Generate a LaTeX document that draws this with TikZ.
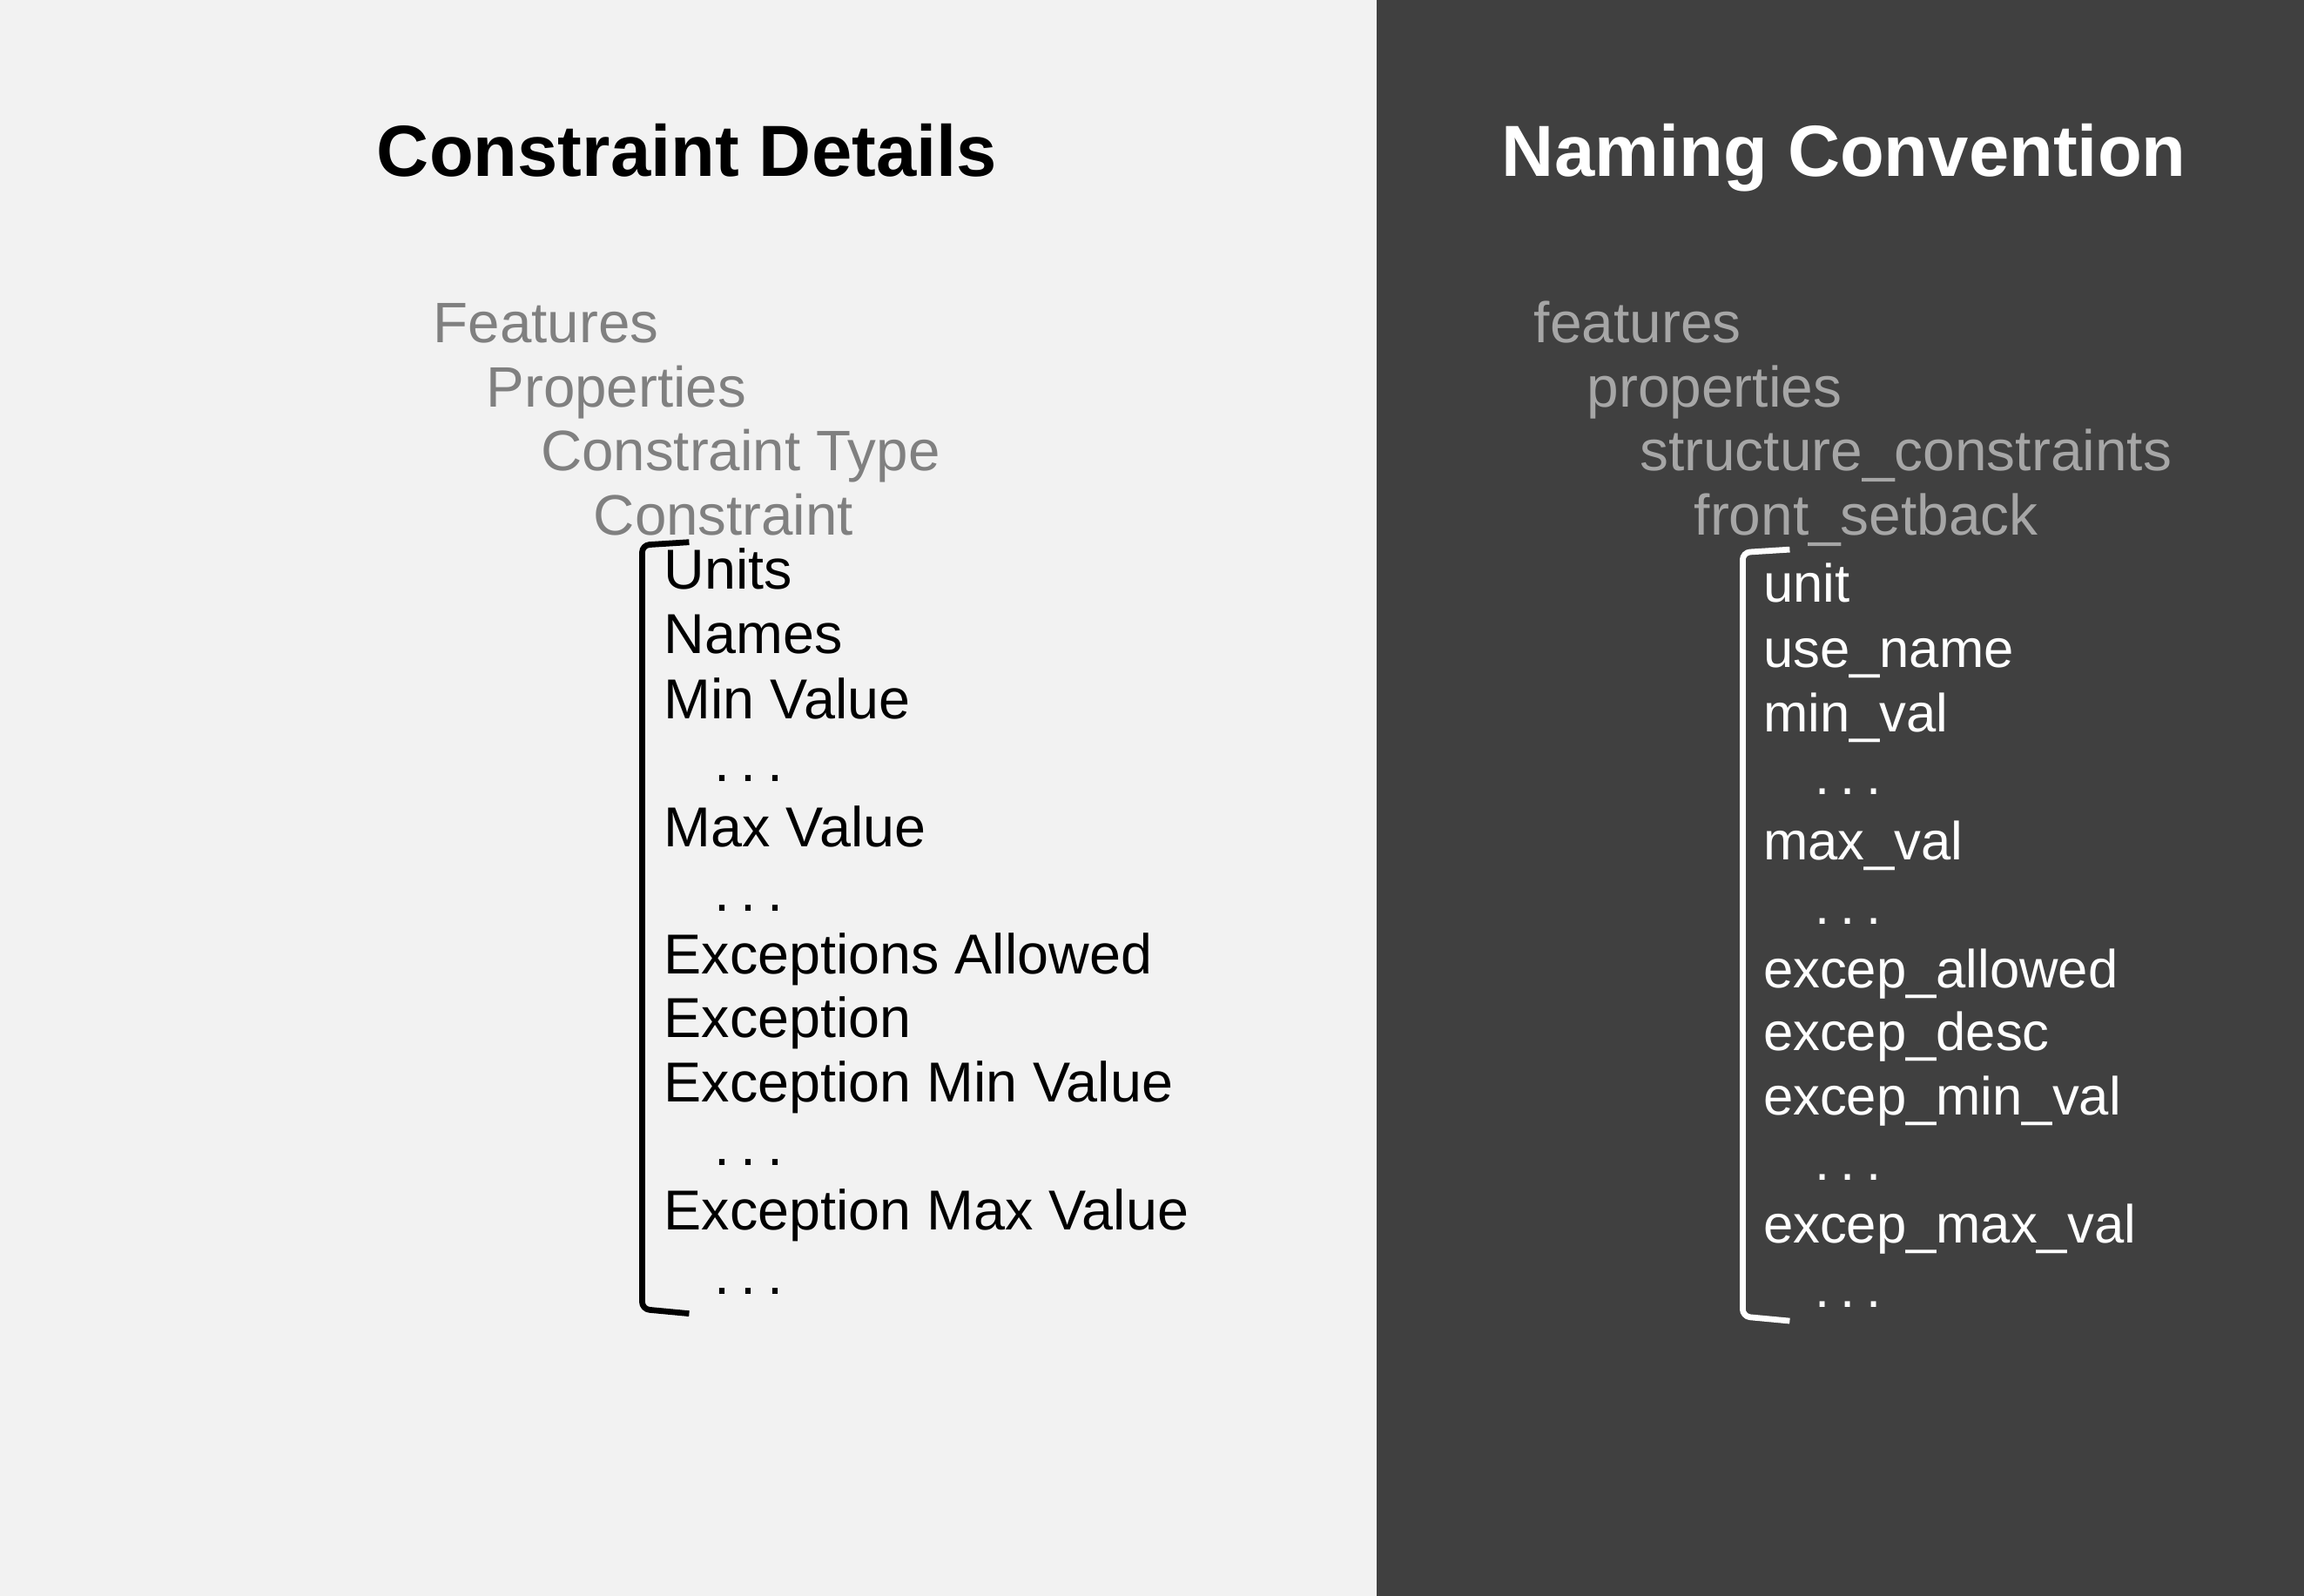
\documentclass[tikz,border=0pt]{standalone}
\usepackage{fontspec}
\setmainfont{Liberation Sans}
\definecolor{lightbg}{HTML}{F2F2F2}
\definecolor{darkbg}{HTML}{404040}
\definecolor{leftgray}{HTML}{808080}
\definecolor{rightgray}{HTML}{A6A6A6}
\newcommand{\mydots}{.\kern7.5pt.\kern7.5pt.}
\begin{document}
\begin{tikzpicture}[x=1pt,y=-1pt,
  every node/.style={inner sep=0pt,outer sep=0pt},
  title/.style={anchor=base,font=\fontsize{49.3}{58}\selectfont\bfseries},
  itemg/.style={anchor=base west,font=\fontsize{38.8}{44}\selectfont},
  item/.style={anchor=base west,font=\fontsize{38.3}{44}\selectfont},
  itemrg/.style={anchor=base west,font=\fontsize{39}{44}\selectfont},
  itemr/.style={anchor=base west,font=\fontsize{36.5}{44}\selectfont},
  brack/.style={line width=4pt,rounded corners=5pt,line cap=butt}]
\useasboundingbox (0,0) rectangle (1568,1086);
\fill[lightbg] (0,0) rectangle (937,1086);
\fill[darkbg] (937,0) rectangle (1568,1086);

% left panel
\node[title,text=black] (ltitle) at (467.5,120) {Constraint Details};
\node[itemg,text=leftgray] (lf) at (295,233) {Features};
\node[itemg,text=leftgray] (lp) at (331,277) {Properties};
\node[itemg,text=leftgray] (lct) at (368,320) {Constraint Type};
\node[itemg,text=leftgray] (lc) at (404,364) {Constraint};
\node[item] (l1) at (452,401) {Units};
\node[item] (l2) at (452,445) {Names};
\node[item] (l3) at (452,489) {Min Value};
\node[item] (l4) at (486,532) {\mydots};
\node[item] (l5) at (452,576) {Max Value};
\node[item] (l6) at (486,620) {\mydots};
\node[item] (l7) at (452,663) {Exceptions Allowed};
\node[item] (l8) at (452,706) {Exception};
\node[item] (l9) at (452,750) {Exception Min Value};
\node[item] (l10) at (486,793) {\mydots};
\node[item] (l11) at (452,837) {Exception Max Value};
\node[item] (l12) at (486,881) {\mydots};
\coordinate (lbt) at (469,369);
\coordinate (lbb) at (469,894);
\draw[brack,black] (lbt) -- (437,371) -- (437,891) -- (lbb);

% right panel
\node[title,text=white] (rtitle) at (1255,120) {Naming Convention};
\node[itemrg,text=rightgray] (rf) at (1044,233) {features};
\node[itemrg,text=rightgray] (rp) at (1080,277) {properties};
\node[itemrg,text=rightgray] (rct) at (1116,320) {structure\_constraints};
\node[itemrg,text=rightgray] (rc) at (1153,364) {front\_setback};
\node[itemr,text=white] (r1) at (1200,410) {unit};
\node[itemr,text=white] (r2) at (1200,454) {use\_name};
\node[itemr,text=white] (r3) at (1200,498) {min\_val};
\node[itemr,text=white] (r4) at (1235,541) {\mydots};
\node[itemr,text=white] (r5) at (1200,585) {max\_val};
\node[itemr,text=white] (r6) at (1235,629) {\mydots};
\node[itemr,text=white] (r7) at (1200,672) {excep\_allowed};
\node[itemr,text=white] (r8) at (1200,715) {excep\_desc};
\node[itemr,text=white] (r9) at (1200,759) {excep\_min\_val};
\node[itemr,text=white] (r10) at (1235,803) {\mydots};
\node[itemr,text=white] (r11) at (1200,846) {excep\_max\_val};
\node[itemr,text=white] (r12) at (1235,890) {\mydots};
\coordinate (rbt) at (1218,374);
\coordinate (rbb) at (1218,899);
\draw[brack,white] (rbt) -- (1186,376) -- (1186,896) -- (rbb);
\end{tikzpicture}
\end{document}
